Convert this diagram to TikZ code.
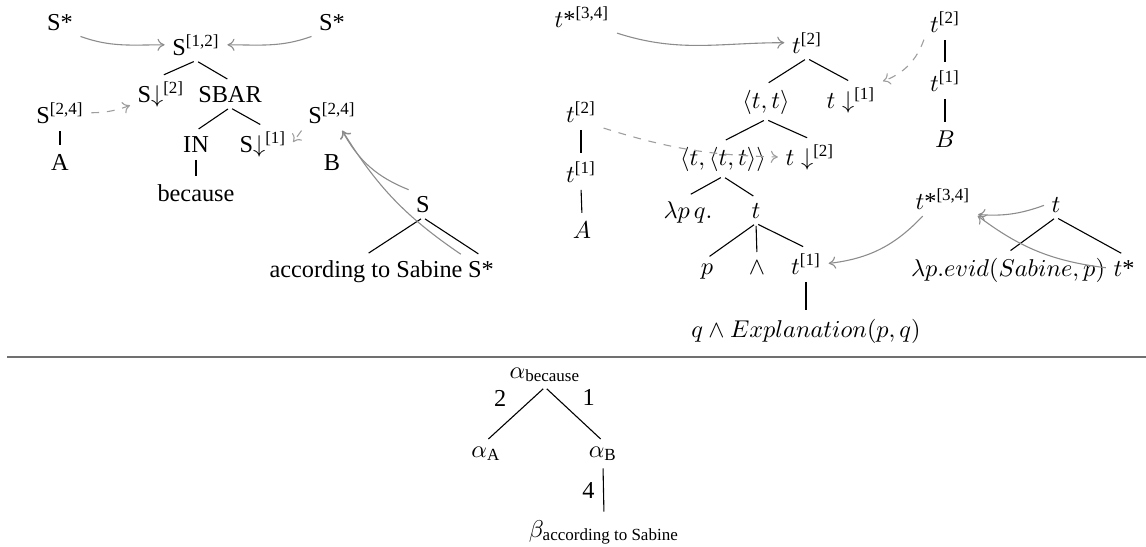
\documentclass[tikz,border=0pt]{standalone}
\usepackage{amsmath}
\usepackage{fontspec}
\setmainfont{Liberation Serif}
\usetikzlibrary{arrows.meta}
\definecolor{arrgray}{HTML}{8C8C8C}
\definecolor{dashgray}{HTML}{9E9E9E}
\definecolor{rulegray}{HTML}{707070}
\begin{document}
\begin{tikzpicture}[x=0.4115pt,y=-0.4115pt,
  lbl/.style={inner sep=2pt, anchor=base},
  elbl/.style={inner sep=0pt, anchor=center},
  br/.style={draw=black, line width=0.45pt, shorten <=1pt, shorten >=1.3pt},
  mv/.style={draw=arrgray, line width=0.45pt, -{To[length=2.9pt,width=5pt]}, shorten <=1pt, shorten >=1pt},
  mvd/.style={mv, draw=dashgray, dash pattern=on 3.2pt off 3.2pt}
]
\useasboundingbox (0,0) rectangle (1146,547);

% ---------- syntactic trees ----------
\node[lbl] (ls1) at (60,30) {S*};
\node[lbl] (ls2) at (332,30) {S*};
\node[lbl] (s12) at (196,55) {S\textsuperscript{[1,2]}};
\node[lbl] (sd2) at (161,102) {S$\downarrow$\textsuperscript{[2]}};
\node[lbl] (sbar) at (230,102) {SBAR};
\node[lbl] (in) at (196,152) {IN};
\node[lbl] (sd1) at (263,152) {S$\downarrow$\textsuperscript{[1]}};
\node[lbl] (bec) at (196,201) {because};
\node[lbl] (s24a) at (60,123) {S\textsuperscript{[2,4]}};
\node[lbl] (A) at (60,170) {A};
\node[lbl] (s24b) at (332,123) {S\textsuperscript{[2,4]}};
\node[lbl] (B) at (332,170) {B};
\node[lbl] (sroot) at (423,212) {S};
\node[lbl] (acc) at (366,277) {according to Sabine};
\node[lbl] (sstar) at (481,277) {S*};

\draw[br] (s12.south) -- (sd2.north);
\draw[br] (s12.south) -- (sbar.north);
\draw[br] (sbar.south) -- (in.north);
\draw[br] (sbar.south) -- (sd1.north);
\draw[br] (in.south) -- (bec.north);
\draw[br] (s24a.south) -- (A.north);
\draw[br] (sroot.south) -- (acc.north);
\draw[br] (sroot.south) -- (sstar.north);

\draw[mv] (ls1.south east) to[out=-20,in=180] (s12.west);
\draw[mv] (ls2.south west) to[out=200,in=0] (s12.east);
\draw[mvd] (s24a.east) to[bend right=10] (sd2.200);
\draw[mvd] (s24b.south west) -- (sd1.east);
\draw[mv] (sroot.north west) to[bend left=20] (s24b.-60);
\draw[mv] (sstar.north west) to[bend left=12] (s24b.-60);

% ---------- semantic trees ----------
\node[lbl] (ts1) at (582,27) {$t$*\textsuperscript{[3,4]}};
\node[lbl] (t2top) at (807,53) {$t$\textsuperscript{[2]}};
\node[lbl] (tt) at (766,108) {$\langle t, t\rangle$};
\node[lbl] (td1) at (851,108) {$t\downarrow$\textsuperscript{[1]}};
\node[lbl] (ttt) at (723,165) {$\langle t, \langle t, t\rangle\rangle$};
\node[lbl] (td2) at (810,165) {$t\downarrow$\textsuperscript{[2]}};
\node[lbl] (lam) at (688,218) {$\lambda p\, q.$};
\node[lbl] (tm) at (756,218) {$t$};
\node[lbl] (p) at (707,274) {$p$};
\node[lbl] (wedge) at (757,274) {$\wedge$};
\node[lbl] (t1) at (806,274) {$t$\textsuperscript{[1]}};
\node[lbl] (expl) at (806,337) {$q \wedge Explanation(p, q)$};
\node[lbl] (lt2) at (581,122) {$t$\textsuperscript{[2]}};
\node[lbl] (lt1) at (581,182) {$t$\textsuperscript{[1]}};
\node[lbl] (lA) at (582,238) {$A$};
\node[lbl] (rt2) at (945,32) {$t$\textsuperscript{[2]}};
\node[lbl] (rt1) at (945,91) {$t$\textsuperscript{[1]}};
\node[lbl] (rB) at (945,147) {$B$};
\node[lbl] (ts2) at (943,209) {$t$*\textsuperscript{[3,4]}};
\node[lbl] (taux) at (1056,212) {$t$};
\node[lbl] (evid) at (1008,276) {$\lambda p.evid(Sabine, p)$};
\node[lbl] (ts3) at (1124,276) {$t$*};

\draw[br] (t2top.south) -- (tt.north);
\draw[br] (t2top.south) -- (td1.north);
\draw[br] (tt.south) -- (ttt.north);
\draw[br] (tt.south) -- (td2.north);
\draw[br] (ttt.south) -- (lam.north);
\draw[br] (ttt.south) -- (tm.north);
\draw[br] (tm.south) -- (p.north);
\draw[br] (tm.south) -- (wedge.north);
\draw[br] (tm.south) -- (t1.north);
\draw[br] (t1.south) -- (expl.north);
\draw[br] (lt2.south) -- (lt1.north);
\draw[br] (lt1.south) -- (lA.north);
\draw[br] (rt2.south) -- (rt1.north);
\draw[br] (rt1.south) -- (rB.north);
\draw[br] (taux.south) -- (evid.north);
\draw[br] (taux.south) -- (ts3.north);

\draw[mv] (ts1.south east) to[out=-18,in=180] (t2top.west);
\draw[mvd] (rt2.south west) to[bend left=25] (td1.north east);
\draw[mvd] (lt2.south east) to[bend right=8] (td2.west);
\draw[mv] (taux.west) to[bend left=12] (ts2.south east);
\draw[mv] (ts3.west) to[bend left=15] (ts2.south east);
\draw[mv] (ts2.-140) to[bend left=20] (t1.east);

% ---------- separator ----------
\draw[rulegray, line width=0.8pt] (7,357) -- (1146,357);

% ---------- derivation tree ----------
\node[lbl] (ab) at (545,378) {$\alpha_{\text{because}}$};
\node[lbl] (aA) at (486,457) {$\alpha_{\text{A}}$};
\node[lbl] (aB) at (603,457) {$\alpha_{\text{B}}$};
\node[lbl] (bs) at (604,537) {$\beta_{\text{according to Sabine}}$};

\draw[br] (ab.south) -- node[elbl, pos=0.2, xshift=-13.6pt] {2} (aA.north);
\draw[br] (ab.south) -- node[elbl, pos=0.2, xshift=13.2pt] {1} (aB.north);
\draw[br] (aB.south) -- node[elbl, pos=0.5, xshift=-6.2pt] {4} (bs.north);
\end{tikzpicture}
\end{document}
